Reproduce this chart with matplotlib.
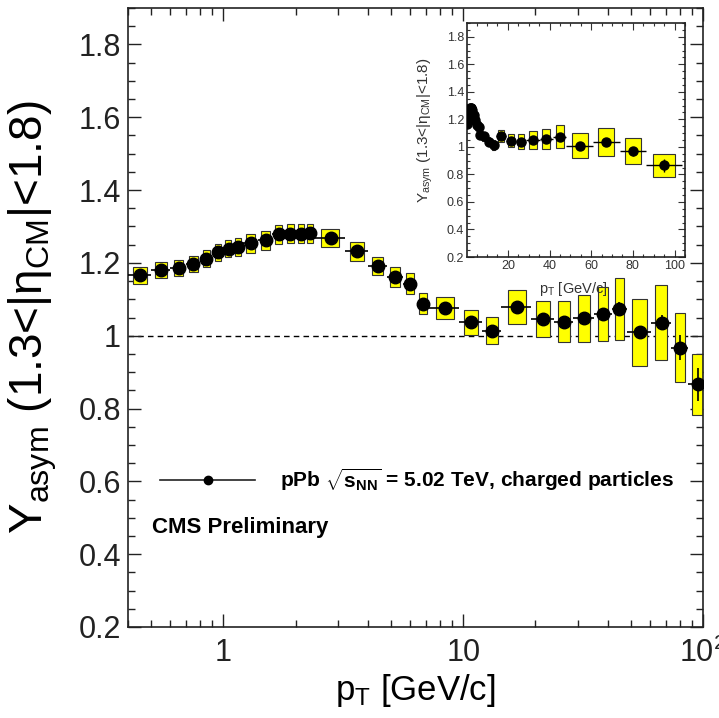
import matplotlib
matplotlib.use("Agg")
import matplotlib.pyplot as plt
from matplotlib.lines import Line2D
from matplotlib.ticker import FixedLocator, FixedFormatter, MultipleLocator, LogLocator, NullFormatter
import numpy as np

plt.rcParams.update({
    "font.family": ["Liberation Sans", "DejaVu Sans"],
    "mathtext.fontset": "custom",
    "mathtext.rm": "Liberation Sans",
    "mathtext.it": "Liberation Sans:italic",
    "mathtext.bf": "Liberation Sans:bold",
    "axes.linewidth": 1.2,
    "axes.edgecolor": "#222222",
})

# pT bin edges [GeV/c] and per-bin values
BIN_EDGES = [0.4, 0.5, 0.6, 0.7, 0.8, 0.9, 1.0, 1.1, 1.2, 1.4, 1.6, 1.8, 2.0, 2.2, 2.4,
             3.2, 4.0, 4.8, 5.6, 6.4, 7.2, 9.6, 12.0, 14.4, 19.2, 24.0, 28.8, 35.2,
             41.6, 48.0, 60.8, 73.6, 86.4, 103.6]
PT = [0.45, 0.55, 0.65, 0.75, 0.85, 0.95, 1.05, 1.15, 1.3, 1.5, 1.7, 1.9, 2.1, 2.3, 2.8,
      3.6, 4.4, 5.2, 6.0, 6.8, 8.4, 10.8, 13.2, 16.8, 21.6, 26.4, 32.0, 38.4, 44.8,
      54.4, 67.2, 80.0, 95.0]
Y_ASYM = [1.166, 1.181, 1.186, 1.197, 1.212, 1.229, 1.239, 1.244, 1.254, 1.262, 1.278,
          1.280, 1.280, 1.281, 1.269, 1.232, 1.192, 1.161, 1.143, 1.088, 1.076, 1.037,
          1.014, 1.079, 1.046, 1.039, 1.048, 1.059, 1.074, 1.009, 1.036, 0.967, 0.866]
STAT = [0.002] * 15 + [0.003, 0.003, 0.004, 0.004, 0.005, 0.005, 0.006, 0.008, 0.008,
                       0.010, 0.012, 0.014, 0.016, 0.018, 0.012, 0.020, 0.034, 0.046]
SYST = [0.023, 0.022, 0.022, 0.022, 0.023, 0.024, 0.024, 0.025, 0.026, 0.026, 0.026,
        0.026, 0.026, 0.026, 0.025, 0.026, 0.025, 0.027, 0.029, 0.029, 0.031, 0.034,
        0.038, 0.046, 0.050, 0.057, 0.065, 0.074, 0.085, 0.093, 0.104, 0.094, 0.085]

YTICKS = [0.2, 0.4, 0.6, 0.8, 1.0, 1.2, 1.4, 1.6, 1.8]
YTICKLABELS = ["0.2", "0.4", "0.6", "0.8", "1", "1.2", "1.4", "1.6", "1.8"]
XTICKS = [1, 10, 100]
XTICKLABELS = ["1", "10", r"$10^{2}$"]
INSET_XTICKS = [20, 40, 60, 80, 100]

YLABEL = r"Y$_{\mathregular{asym}}$ (1.3<|η$_{\mathregular{CM}}$|<1.8)"
XLABEL = r"p$_{\mathregular{T}}$ [GeV/c]"
LEGEND_LABEL = r"pPb $\sqrt{\mathbf{s}_{\mathbf{NN}}}$ = 5.02 TeV, charged particles"

edges = np.array(BIN_EDGES)
lo, hi = edges[:-1], edges[1:]
pt = np.array(PT)
y = np.array(Y_ASYM)
stat = np.array(STAT)
syst = np.array(SYST)


def draw_points(ax, ms, lw):
    # systematic boxes, 60% of bin width
    ax.bar(pt, 2 * syst, bottom=y - syst, width=0.6 * (hi - lo), color="#ffff00",
           edgecolor="#333333", linewidth=0.8, zorder=2)
    ax.errorbar(pt, y, xerr=[pt - lo, hi - pt], yerr=stat, fmt="o", color="black",
                ms=ms, lw=lw, capsize=0, zorder=3)


fig = plt.figure(figsize=(7.19, 7.18), dpi=100)

# main panel
ax = fig.add_axes([128 / 719, 91 / 718, 575 / 719, 619 / 718])
ax.set_xscale("log")
ax.set_xlim(0.4, 100)
ax.set_ylim(0.2, 1.9)
ax.axhline(1.0, color="black", lw=1.0, ls=(0, (4, 3)), zorder=1)
draw_points(ax, 9, 1.2)

ax.yaxis.set_major_locator(FixedLocator(YTICKS))
ax.yaxis.set_major_formatter(FixedFormatter(YTICKLABELS))
ax.yaxis.set_minor_locator(MultipleLocator(0.05))
ax.xaxis.set_major_locator(FixedLocator(XTICKS))
ax.xaxis.set_major_formatter(FixedFormatter(XTICKLABELS))
ax.xaxis.set_minor_locator(LogLocator(base=10, subs=np.arange(2, 10)))
ax.xaxis.set_minor_formatter(NullFormatter())
ax.tick_params(which="both", direction="in", top=True, right=True, colors="#222222")
ax.tick_params(which="major", length=9.5, width=1.0, labelsize=22)
ax.tick_params(which="minor", length=5, width=1.0)
ax.tick_params(axis="x", which="major", pad=8)
ax.tick_params(axis="y", which="major", pad=5)

ax.set_ylabel(YLABEL, fontsize=33)
ax.yaxis.set_label_coords(-0.165, 0.5)
ax.yaxis.label.set_verticalalignment("center")
ax.set_xlabel(XLABEL, fontsize=25)
ax.xaxis.set_label_coords(0.5, -0.102)
ax.xaxis.label.set_verticalalignment("center")

handle = Line2D([], [], color="#222222", lw=1.2, marker="o", ms=6, mfc="black", mec="black")
ax.legend([handle], [LEGEND_LABEL], loc="center left", bbox_to_anchor=(0.055, 0.2375),
          frameon=False, handlelength=4.6, handletextpad=1.2, borderpad=0,
          borderaxespad=0, prop={"weight": "bold", "size": 15})
ax.text(0.042, 0.1615, "CMS Preliminary", transform=ax.transAxes, fontsize=16,
        fontweight="bold", va="center", ha="left")

# inset, linear pT
ins = fig.add_axes([467 / 719, 461 / 718, 218 / 719, 234 / 718])
ins.set_xlim(0.4, 105)
ins.set_ylim(0.2, 1.9)
draw_points(ins, 6.5, 1.0)
ins.yaxis.set_major_locator(FixedLocator(YTICKS))
ins.yaxis.set_major_formatter(FixedFormatter(YTICKLABELS))
ins.yaxis.set_minor_locator(MultipleLocator(0.05))
ins.xaxis.set_major_locator(FixedLocator(INSET_XTICKS))
ins.xaxis.set_minor_locator(MultipleLocator(5))
ins.tick_params(which="both", direction="in", top=True, right=True, colors="#333333",
                labelsize=9, pad=2)
ins.tick_params(which="major", length=5, width=0.8)
ins.tick_params(which="minor", length=2.5, width=0.8)
ins.set_ylabel(YLABEL, fontsize=11, color="#333333")
ins.yaxis.set_label_coords(-0.19, 0.54)
ins.yaxis.label.set_verticalalignment("center")
ins.set_xlabel(XLABEL, fontsize=10.5, color="#333333")
ins.xaxis.set_label_coords(0.49, -0.135)
ins.xaxis.label.set_verticalalignment("center")

fig.savefig("out.png", dpi=100)
